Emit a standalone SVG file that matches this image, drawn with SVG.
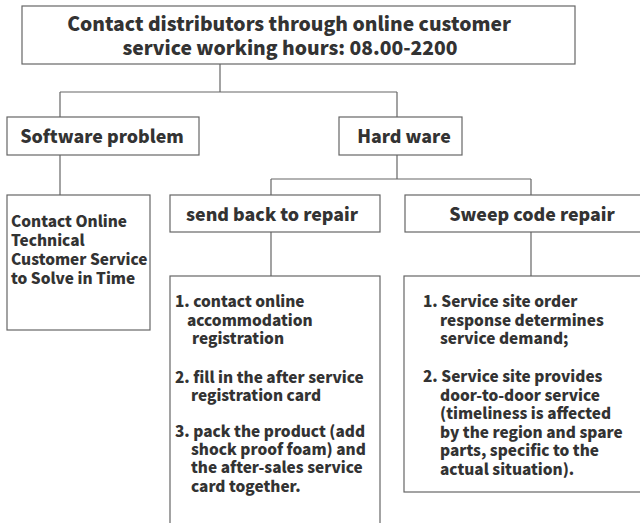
<svg xmlns="http://www.w3.org/2000/svg" width="640" height="523" viewBox="0 0 640 523">
<style>
.box{fill:#fff;stroke:#666;stroke-width:1.2}
.ln{fill:none;stroke:#666;stroke-width:1.2}
text{font-family:"Noto Sans CJK SC","Source Sans Pro","Noto Sans",sans-serif;font-weight:900;fill:#333}
.t1{font-size:19.3px;text-anchor:middle}
.t2{font-size:17.8px;text-anchor:middle}
.t3{font-size:15.4px}
</style>
<rect width="640" height="523" fill="#fff"/>
<g id="connectors">
<path class="ln" d="M220,64V92M60,92H397M60,92V117M397,92V117"/>
<path class="ln" d="M60,155V195"/>
<path class="ln" d="M397,155V179M271,179H531M271,179V195M531,179V195"/>
<path class="ln" d="M271,232V276M531,232V276"/>
</g>
<g id="top">
<rect class="box" x="22" y="6" width="553" height="58"/>
<text class="t1" x="289" y="31"><tspan x="289" y="31">Contact distributors through online customer</tspan><tspan x="290" y="55">service working hours: 08.00-2200</tspan></text>
</g>
<g id="software">
<rect class="box" x="7" y="117" width="192" height="38"/>
<text class="t2" x="102" y="143">Software problem</text>
</g>
<g id="hardware">
<rect class="box" x="339" y="117" width="123" height="38"/>
<text class="t2" x="404" y="143">Hard ware</text>
</g>
<g id="contact-online">
<rect class="box" x="7" y="195" width="143" height="135"/>
<text class="t3" x="11" y="227"><tspan x="11" y="227">Contact Online</tspan><tspan x="11" y="246">Technical</tspan><tspan x="11" y="265">Customer Service</tspan><tspan x="11" y="284">to Solve in Time</tspan></text>
</g>
<g id="send-back">
<rect class="box" x="170" y="195" width="210" height="37"/>
<text class="t2" x="272" y="221">send back to repair</text>
</g>
<g id="sweep">
<rect class="box" x="405" y="195" width="240" height="37"/>
<text class="t2" x="532" y="221">Sweep code repair</text>
</g>
<g id="send-back-steps">
<rect class="box" x="170" y="276" width="210" height="252"/>
<text class="t3" x="175" y="307"><tspan x="175" y="307">1. contact online</tspan><tspan x="187" y="326">accommodation</tspan><tspan x="192" y="344">registration</tspan></text>
<text class="t3" x="175" y="383"><tspan x="175" y="383">2. fill in the after service</tspan><tspan x="191" y="401">registration card</tspan></text>
<text class="t3" x="175" y="437"><tspan x="175" y="437">3. pack the product (add</tspan><tspan x="191" y="455">shock proof foam) and</tspan><tspan x="191" y="473">the after-sales service</tspan><tspan x="191" y="492">card together.</tspan></text>
</g>
<g id="sweep-steps">
<rect class="box" x="404" y="276" width="240" height="216"/>
<text class="t3" x="423" y="307"><tspan x="423" y="307">1. Service site order</tspan><tspan x="440" y="326">response determines</tspan><tspan x="440" y="344">service demand;</tspan></text>
<text class="t3" x="423" y="382"><tspan x="423" y="382">2. Service site provides</tspan><tspan x="440" y="401">door-to-door service</tspan><tspan x="440" y="419">(timeliness is affected</tspan><tspan x="440" y="438">by the region and spare</tspan><tspan x="440" y="456">parts, specific to the</tspan><tspan x="440" y="475">actual situation).</tspan></text>
</g>
</svg>
